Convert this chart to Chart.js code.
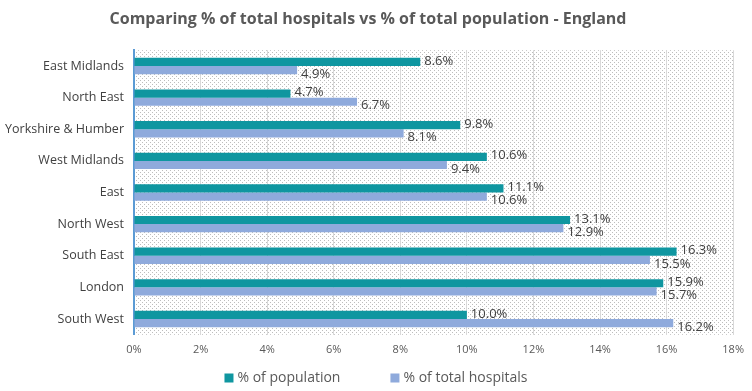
<!DOCTYPE html>
<html>
<head>
<meta charset="utf-8">
<script src="https://cdn.jsdelivr.net/npm/chart.js@4"></script>
<style>
  html, body { margin: 0; padding: 0; background: #fff; }
  #wrap { width: 752px; height: 391px; }
</style>
</head>
<body>
<div id="wrap"><canvas id="c" width="752" height="391"></canvas></div>
<script>
// data
const regions = ['East Midlands', 'North East', 'Yorkshire & Humber', 'West Midlands', 'East', 'North West', 'South East', 'London', 'South West'];
const popShare = [8.6, 4.7, 9.8, 10.6, 11.1, 13.1, 16.3, 15.9, 10.0];
const hospShare = [4.9, 6.7, 8.1, 9.4, 10.6, 12.9, 15.5, 15.7, 16.2];
const xTicks = [0, 2, 4, 6, 8, 10, 12, 14, 16, 18];

const FONT = "'Open Sans', 'Liberation Sans', sans-serif";

// dotted plot background
function dotPattern(ctx){
  const p = document.createElement('canvas');
  p.width = 4; p.height = 4;
  const g = p.getContext('2d');
  g.fillStyle = '#ffffff'; g.fillRect(0, 0, 4, 4);
  g.fillStyle = '#bdbdbd'; g.fillRect(0, 0, 1, 1);
  g.fillRect(2, 2, 1, 1);
  return ctx.createPattern(p, 'repeat');
}
const plotBg = {
  id: 'plotBg',
  beforeDraw(chart){
    const {ctx, chartArea: a} = chart;
    ctx.save();
    ctx.fillStyle = dotPattern(ctx);
    ctx.fillRect(a.left, a.top, a.right - a.left, a.bottom - a.top);
    ctx.restore();
  }
};

// value labels at bar ends
const barLabels = {
  id: 'barLabels',
  afterDatasetsDraw(chart){
    const ctx = chart.ctx;
    ctx.save();
    ctx.font = '13px ' + FONT;
    ctx.fillStyle = '#404040';
    ctx.textBaseline = 'middle';
    chart.data.datasets.forEach((ds, i) => {
      chart.getDatasetMeta(i).data.forEach((bar, j) => {
        ctx.fillText(ds.data[j].toFixed(1) + '%', bar.x + 4, bar.y + (i === 0 ? -1 : 4));
      });
    });
    ctx.restore();
  }
};

// legend along the bottom, wider gap between entries than the built-in one
const bottomLegend = {
  id: 'bottomLegend',
  afterDraw(chart){
    const ctx = chart.ctx;
    const box = 9, gapText = 4, gapItem = 50, y = 378;
    ctx.save();
    ctx.font = '14px ' + FONT;
    ctx.textBaseline = 'middle';
    const items = chart.data.datasets.map(ds => ({ text: ds.label, color: ds.backgroundColor, w: ctx.measureText(ds.label).width }));
    const total = items.reduce((s, it) => s + box + gapText + it.w, 0) + gapItem * (items.length - 1);
    let x = chart.width / 2 - total / 2;
    items.forEach(it => {
      ctx.fillStyle = it.color;
      ctx.fillRect(x, y - box / 2, box, box);
      ctx.fillStyle = '#595959';
      ctx.fillText(it.text, x + box + gapText, y);
      x += box + gapText + it.w + gapItem;
    });
    ctx.restore();
  }
};

new Chart(document.getElementById('c').getContext('2d'), {
  type: 'bar',
  data: {
    labels: regions,
    datasets: [
      { label: '% of population', data: popShare, backgroundColor: '#0f96a0', categoryPercentage: 0.52, barPercentage: 1.0 },
      { label: '% of total hospitals', data: hospShare, backgroundColor: '#8faadc', categoryPercentage: 0.52, barPercentage: 1.0 }
    ]
  },
  options: {
    indexAxis: 'y',
    responsive: false,
    animation: false,
    layout: { padding: { left: 0, right: 16, top: 2, bottom: 27 } },
    scales: {
      x: {
        min: 0, max: 18,
        afterBuildTicks: s => { s.ticks = xTicks.map(v => ({ value: v })); },
        ticks: { callback: v => v + '%', color: '#595959', font: { family: FONT, size: 11 }, padding: 8 },
        grid: { color: '#d9d9d9', drawTicks: false },
        border: { display: false }
      },
      y: {
        afterFit: s => { s.width = 134; },
        ticks: { color: '#404040', font: { family: FONT, size: 12.5 }, padding: 10 },
        grid: { display: false, drawTicks: false },
        border: { display: true, color: '#5b9bd5', width: 2 }
      }
    },
    plugins: {
      title: {
        display: true,
        text: 'Comparing % of total hospitals vs % of total population - England',
        color: '#595959',
        font: { family: FONT, size: 16, weight: 'bold' },
        padding: { top: 8, bottom: 21 }
      },
      legend: { display: false },
      tooltip: { enabled: false }
    }
  },
  plugins: [plotBg, barLabels, bottomLegend]
});
</script>
</body>
</html>
